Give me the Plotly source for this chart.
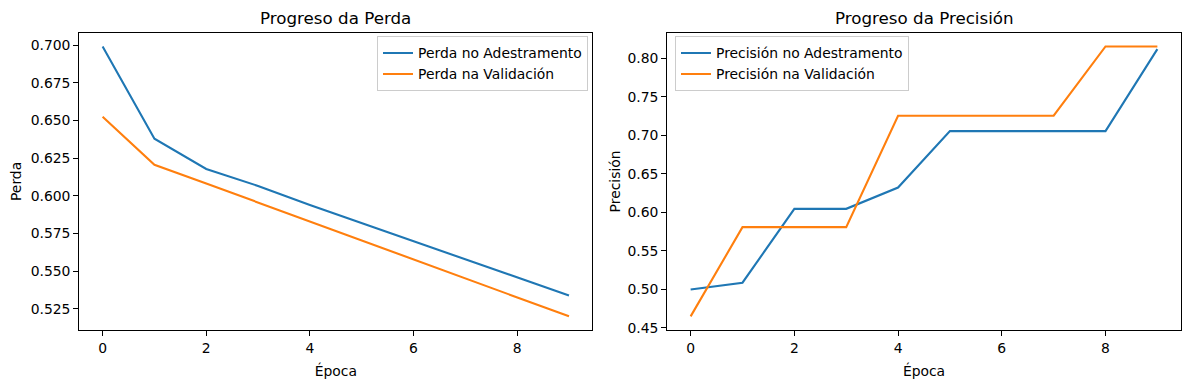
import plotly.graph_objects as go

# ---- data ----
epochs = list(range(10))
loss_train = [0.6991, 0.6379, 0.6178, 0.6065, 0.5939, 0.5818, 0.5698, 0.5578, 0.5457, 0.5337]
loss_val = [0.6525, 0.6205, 0.6081, 0.5955, 0.5829, 0.5703, 0.5577, 0.5451, 0.5325, 0.5199]
acc_train = [0.4996, 0.5085, 0.6044, 0.6044, 0.6320, 0.7053, 0.7053, 0.7053, 0.7053, 0.8118]
acc_val = [0.4648, 0.5806, 0.5806, 0.5806, 0.7253, 0.7253, 0.7253, 0.7253, 0.8152, 0.8152]

titles = ["Progreso da Perda", "Progreso da Precisión"]
xlabel = "Época"
ylabels = ["Perda", "Precisión"]
names_loss = ["Perda no Adestramento", "Perda na Validación"]
names_acc = ["Precisión no Adestramento", "Precisión na Validación"]
x_ticks = [0, 2, 4, 6, 8]

BLUE = "#1f77b4"
ORANGE = "#ff7f0e"
FONT = "DejaVu Sans"
W, H = 1189, 390

fig = go.Figure()
fig.add_trace(go.Scatter(x=epochs, y=loss_train, mode="lines", name=names_loss[0],
                         line=dict(color=BLUE, width=2.1), xaxis="x", yaxis="y", legend="legend"))
fig.add_trace(go.Scatter(x=epochs, y=loss_val, mode="lines", name=names_loss[1],
                         line=dict(color=ORANGE, width=2.1), xaxis="x", yaxis="y", legend="legend"))
fig.add_trace(go.Scatter(x=epochs, y=acc_train, mode="lines", name=names_acc[0],
                         line=dict(color=BLUE, width=2.1), xaxis="x2", yaxis="y2", legend="legend2"))
fig.add_trace(go.Scatter(x=epochs, y=acc_val, mode="lines", name=names_acc[1],
                         line=dict(color=ORANGE, width=2.1), xaxis="x2", yaxis="y2", legend="legend2"))

def px_x(p):
    return p / W

def px_y(p):
    return 1 - p / H

top, bottom = 33.5, 335.0
dom_y = [px_y(bottom), px_y(top)]

axis_common = dict(showline=True, linecolor="black", linewidth=1.1, mirror=True,
                   ticks="outside", ticklen=5, tickwidth=1.1, tickcolor="black",
                   showgrid=False, zeroline=False,
                   tickfont=dict(family=FONT, size=13.9, color="black"))

def span(vals):
    lo, hi = min(vals), max(vals)
    m = (hi - lo) * 0.05
    return [lo - m, hi + m]

xr = [-0.45, 9.45]

fig.update_layout(
    width=W, height=H,
    margin=dict(l=0, r=0, t=0, b=0),
    paper_bgcolor="white", plot_bgcolor="white",
    font=dict(family=FONT, size=13.9, color="black"),
    xaxis=dict(domain=[px_x(79.3), px_x(592.3)], anchor="y", range=xr,
               tickvals=x_ticks, title=dict(text=xlabel, standoff=11, font=dict(size=13.9)),
               **axis_common),
    yaxis=dict(domain=dom_y, anchor="x", range=span(loss_train + loss_val),
               dtick=0.025, tick0=0.5, tickformat=".3f",
               title=dict(text=ylabels[0], standoff=5, font=dict(size=13.9)),
               **axis_common),
    xaxis2=dict(domain=[px_x(667.3), px_x(1180.7)], anchor="y2", range=xr,
                tickvals=x_ticks, title=dict(text=xlabel, standoff=11, font=dict(size=13.9)),
                **axis_common),
    yaxis2=dict(domain=dom_y, anchor="x2", range=span(acc_train + acc_val),
                dtick=0.05, tick0=0.45, tickformat=".2f",
                title=dict(text=ylabels[1], standoff=3, font=dict(size=13.9)),
                **axis_common),
    legend=dict(x=px_x(588), y=px_y(37), xanchor="right", yanchor="top",
                bgcolor="rgba(255,255,255,0.8)", bordercolor="#cccccc", borderwidth=1,
                font=dict(family=FONT, size=13.9, color="black"), tracegroupgap=0),
    legend2=dict(x=px_x(675), y=px_y(37), xanchor="left", yanchor="top",
                 bgcolor="rgba(255,255,255,0.8)", bordercolor="#cccccc", borderwidth=1,
                 font=dict(family=FONT, size=13.9, color="black"), tracegroupgap=0),
    showlegend=True,
)

centers = [(79.3 + 592.3) / 2, (667.3 + 1180.7) / 2]
for c, t in zip(centers, titles):
    fig.add_annotation(text=t, x=px_x(c), y=px_y(18), xref="paper", yref="paper",
                       xanchor="center", yanchor="middle", showarrow=False,
                       font=dict(family=FONT, size=16.7, color="black"))

fig.write_html("out.html", config={"displayModeBar": False},
               post_script="document.body.style.margin='0';document.body.style.overflow='hidden';")
